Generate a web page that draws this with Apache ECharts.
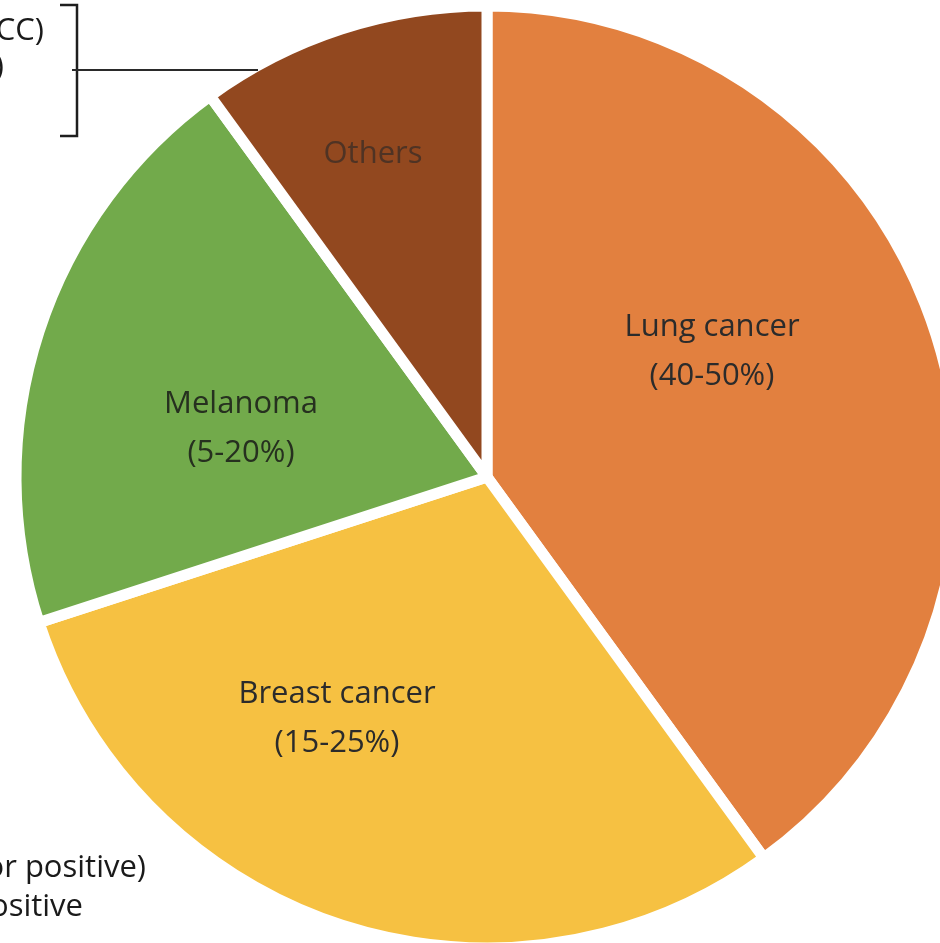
<!DOCTYPE html>
<html>
<head>
<meta charset="utf-8">
<title>Primary tumours of brain metastases</title>
<script src="https://cdn.jsdelivr.net/npm/echarts@6/dist/echarts.min.js"></script>
<style>
  html, body { margin: 0; padding: 0; background: #ffffff; }
  #chart { width: 940px; height: 943px; }
</style>
</head>
<body>
<div id="chart"></div>
<script>
// Primary tumour sites, clockwise from 12 o'clock
const categories = ['Lung cancer', 'Breast cancer', 'Melanoma', 'Others'];
const shares = [40, 30, 20, 10];
const rangeLabels = ['40-50%', '15-25%', '5-20%', ''];
const sliceColors = ['#E2803F', '#F6C142', '#72AA4B', '#92481F'];
const labelColors = ['#2b2b2b', '#2b2b2b', '#26301f', '#4f3324'];

// Label anchor points (block centres) for each slice
const labelAnchors = [[712, 352], [337, 719], [241, 429], [373, 154]];

const FONT = '"Open Sans", Lato, sans-serif';

const chart = echarts.init(document.getElementById('chart'), null, { renderer: 'canvas' });

chart.setOption({
  backgroundColor: '#ffffff',
  animation: false,
  series: [{
    type: 'pie',
    center: [487, 477],
    radius: 471,
    startAngle: 90,
    clockwise: true,
    avoidLabelOverlap: false,
    data: categories.map((name, i) => ({
      name: name,
      value: shares[i],
      itemStyle: { color: sliceColors[i] },
      label: { color: labelColors[i] }
    })),
    itemStyle: { borderColor: '#ffffff', borderWidth: 11 },
    label: {
      show: true,
      position: 'inside',
      fontFamily: FONT,
      fontSize: 31,
      lineHeight: 49,
      align: 'center',
      formatter: (p) => {
        const r = rangeLabels[p.dataIndex];
        return r ? p.name + '\n(' + r + ')' : p.name;
      }
    },
    labelLayout: (p) => ({
      x: labelAnchors[p.dataIndex][0],
      y: labelAnchors[p.dataIndex][1],
      align: 'center',
      verticalAlign: 'middle'
    }),
    emphasis: { disabled: true }
  }],
  graphic: [
    // bracket grouping the rarer primaries, joined to the "Others" slice
    {
      type: 'polyline', z: 100,
      shape: { points: [[60, 5], [77, 5], [77, 136], [60, 136]] },
      style: { stroke: '#1e1e1e', lineWidth: 2.5, fill: null }
    },
    {
      type: 'line', z: 100,
      shape: { x1: 72, y1: 70, x2: 258, y2: 70 },
      style: { stroke: '#2a2a2a', lineWidth: 2 }
    },
    // side text running off the left edge
    {
      type: 'text', z: 100,
      style: { text: 'CC)', x: 44, y: 31, align: 'right', verticalAlign: 'middle',
               font: '31px ' + FONT, fill: '#1a1a1a' }
    },
    {
      type: 'text', z: 100,
      style: { text: ')', x: 4, y: 67, align: 'right', verticalAlign: 'middle',
               font: '31px ' + FONT, fill: '#1a1a1a' }
    },
    {
      type: 'text', z: 100,
      style: { text: 'or positive)', x: 146, y: 868, align: 'right', verticalAlign: 'middle',
               font: '31px ' + FONT, fill: '#1a1a1a' }
    },
    {
      type: 'text', z: 100,
      style: { text: 'ositive', x: 83, y: 907, align: 'right', verticalAlign: 'middle',
               font: '31px ' + FONT, fill: '#1a1a1a' }
    }
  ]
});
</script>
</body>
</html>
